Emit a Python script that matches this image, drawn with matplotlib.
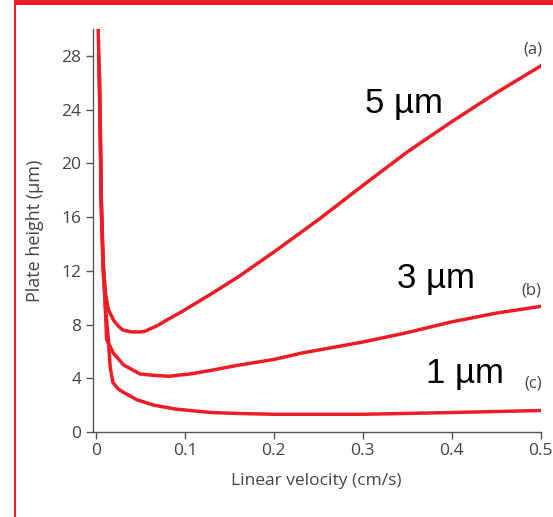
import matplotlib
matplotlib.use('Agg')
import matplotlib.pyplot as plt
from matplotlib.patches import Rectangle

# curve (a) 5 um particles
x_a = [0.0025, 0.004, 0.005, 0.006, 0.008, 0.011, 0.014, 0.02, 0.025, 0.03, 0.04, 0.05, 0.055,
       0.06, 0.07, 0.08, 0.095, 0.11, 0.13, 0.16, 0.2, 0.25, 0.3, 0.35, 0.4, 0.45, 0.5]
y_a = [29.9, 26.0, 21.0, 16.5, 12.5, 10.2, 9.1, 8.3, 7.9, 7.6, 7.45, 7.45, 7.5,
       7.65, 7.95, 8.35, 8.9, 9.5, 10.3, 11.55, 13.4, 15.8, 18.35, 20.85, 23.1, 25.25, 27.25]
# curve (b) 3 um
x_b = [0.003, 0.005, 0.006, 0.008, 0.010, 0.012, 0.0195, 0.031, 0.0495, 0.068, 0.083,
       0.095, 0.106, 0.132, 0.158, 0.2, 0.233, 0.271, 0.3, 0.35, 0.4, 0.45, 0.5]
y_b = [28.0, 22.0, 17.5, 13.0, 10.0, 6.9, 5.88, 4.99, 4.32, 4.2, 4.15,
       4.25, 4.32, 4.62, 4.95, 5.4, 5.9, 6.35, 6.7, 7.4, 8.2, 8.85, 9.35]
# curve (c) 1 um
x_c = [0.004, 0.006, 0.008, 0.011, 0.014, 0.016, 0.019, 0.025, 0.031, 0.046, 0.065,
       0.09, 0.13, 0.16, 0.2, 0.3, 0.4, 0.5]
y_c = [26.5, 17.0, 12.0, 9.0, 6.8, 4.8, 3.7, 3.2, 2.95, 2.4, 2.0,
       1.7, 1.45, 1.38, 1.32, 1.32, 1.45, 1.6]

size_labels = ['5 µm', '3 µm', '1 µm']
curve_tags = ['(a)', '(b)', '(c)']

red = '#ee1c25'
grey = '#444444'

fig = plt.figure(figsize=(5.53, 5.17), dpi=100)
ax = fig.add_axes([0.1676, 0.1644, 0.9778 - 0.1676, 0.9439 - 0.1644])

for xs, ys in [(x_a, y_a), (x_b, y_b), (x_c, y_c)]:
    ax.plot(xs, ys, color=red, lw=2.5, solid_joinstyle='round')

ax.set_xlim(-0.0037, 0.5)
ax.set_ylim(0, 30)
ax.set_xticks([0, 0.1, 0.2, 0.3, 0.4, 0.5])
ax.set_xticklabels(['0', '0.1', '0.2', '0.3', '0.4', '0.5'])
ax.set_yticks(range(0, 29, 4))
for s in ['top', 'right']:
    ax.spines[s].set_visible(False)
for s in ['left', 'bottom']:
    ax.spines[s].set_color('#555555')
    ax.spines[s].set_linewidth(1.0)
ax.tick_params(direction='out', length=5, width=1, color='#555555',
               labelcolor=grey, labelsize=12.5, pad=3)
for lab in ax.get_xticklabels() + ax.get_yticklabels():
    lab.set_family('Open Sans')

ax.set_xlabel('Linear velocity (cm/s)', family='Open Sans', fontsize=12.5,
              color=grey, labelpad=10)
ax.set_ylabel('Plate height (μm)', family='Open Sans', fontsize=13,
              color=grey, labelpad=13)

# curve size labels
for (tx, ty), t in zip([(0.3027, 23.75), (0.3387, 10.72), (0.371, 3.65)], size_labels):
    ax.text(tx, ty, t, family='Liberation Sans', fontsize=25, color='black',
            ha='left', va='baseline')
for (tx, ty), t in zip([(0.4907, 28.5), (0.4895, 10.5), (0.4918, 3.6)], curve_tags):
    ax.text(tx, ty, t, family='Open Sans', fontsize=12, color=grey,
            ha='center', va='center')

# red frame pieces
fig.add_artist(Rectangle((14 / 553, 0), 2 / 553, 1, transform=fig.transFigure,
                         color=red, lw=0))
fig.add_artist(Rectangle((14 / 553, 1 - 5 / 517), 1, 5 / 517, transform=fig.transFigure,
                         color=red, lw=0))

fig.savefig('out.png', dpi=100)
